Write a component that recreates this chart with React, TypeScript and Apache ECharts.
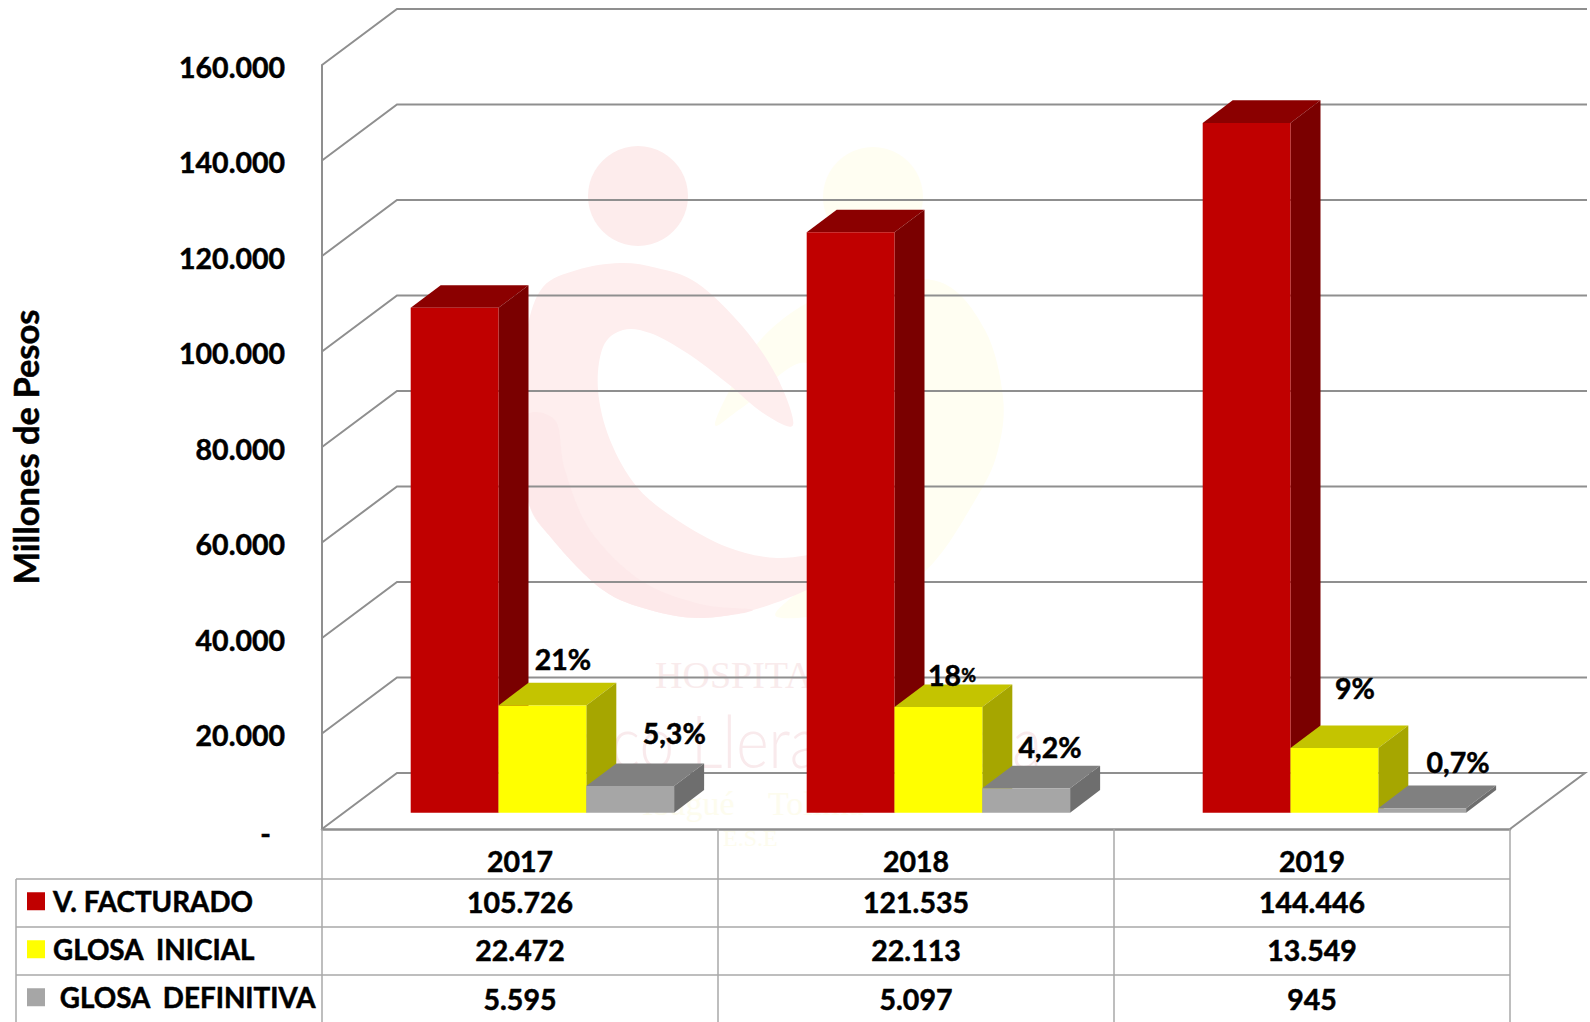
import React, { useEffect, useRef } from "react";
import * as echarts from "echarts";

const years = ["2017", "2018", "2019"];
const seriesNames = ["V. FACTURADO", "GLOSA  INICIAL", "GLOSA  DEFINITIVA"];
const facturado = [105726, 121535, 144446];
const glosaInicial = [22472, 22113, 13549];
const glosaDefinitiva = [5595, 5097, 945];
const pctInicial = ["21%", "{n|18}{s|%}", "9%"];
const pctDefinitiva = ["5,3%", "4,2%", "0,7%"];
const yTicks = [0, 20000, 40000, 60000, 80000, 100000, 120000, 140000, 160000];

const FONT = "Lato";
const GRID_LINE = "#8f8f8f";
const TABLE_LINE = "#a8a8a8";
const FS = 28.5;
const HEAVY = { textBorderColor: "#000", textBorderWidth: 0.5 };

const palettes = [
  { front: "#C00000", top: "#8B0000", side: "#7A0000" },
  { front: "#FFFF00", top: "#C4C400", side: "#A6A600" },
  { front: "#A6A6A6", top: "#808080", side: "#6E6E6E" },
];
const labelNudge: ([number, number][] | null)[] = [
  null,
  [[20.6, -46.4], [13.6, -32], [20.6, -60]],
  [[44, -53], [23.8, -41.4], [35.8, -46]],
];
const pctLabels = [null, pctInicial, pctDefinitiva];
const rowCenters = [902, 950, 999];

const BAR_W = 87.8;
const BAR_LEFT = -109.3;
const BAR_LIFT = 16.3;
const DEPTH_X = 30;
const DEPTH_Y = 22.6;
const WALL_X = 75;
const WALL_Y = 56;

const fmt = (v: number) => String(v).replace(/\B(?=(\d{3})+$)/g, ".");

function smooth(pts: number[][], close = true) {
  const n = pts.length;
  let d = `M${pts[0][0]} ${pts[0][1]}`;
  const at = (i: number) => pts[close ? (i + n) % n : Math.max(0, Math.min(n - 1, i))];
  const end = close ? n : n - 1;
  for (let i = 0; i < end; i++) {
    const p0 = at(i - 1), p1 = at(i), p2 = at(i + 1), p3 = at(i + 2);
    d += `C${p1[0] + (p2[0] - p0[0]) / 6} ${p1[1] + (p2[1] - p0[1]) / 6} ${p2[0] - (p3[0] - p1[0]) / 6} ${p2[1] - (p3[1] - p1[1]) / 6} ${p2[0]} ${p2[1]}`;
  }
  return d + "Z";
}

const swooshPts = [
  [793, 425], [777, 377], [743, 327], [697, 283], [657, 268], [620, 263], [577, 270], [543, 287], [527, 330],
  [522, 400], [527, 497], [553, 540], [603, 590], [650, 610], [700, 618], [753, 610], [807, 590], [835, 572],
  [835, 553], [777, 558], [727, 547], [677, 520], [637, 487], [610, 440], [598, 390], [603, 347],
  [623, 330], [650, 333], [687, 353], [727, 383], [763, 413],
];
const shadePts = [
  [522, 420], [527, 497], [553, 540], [603, 590], [650, 610], [700, 618], [753, 610],
  [700, 604], [640, 580], [590, 530], [565, 470], [555, 420],
];
const yellowPts = [
  [715, 425], [735, 380], [763, 337], [807, 303], [860, 285], [940, 282], [985, 330], [1003, 397], [998, 450],
  [977, 497], [923, 573], [843, 610], [777, 617], [800, 590], [860, 540], [840, 440], [807, 363], [743, 407],
];

let registered = false;
function registerWatermark() {
  if (registered) return;
  registered = true;
  echarts.graphic.registerShape("wmSwoosh", echarts.graphic.extendPath(smooth(swooshPts), {}));
  echarts.graphic.registerShape("wmShade", echarts.graphic.extendPath(smooth(shadePts), {}));
  echarts.graphic.registerShape("wmYellow", echarts.graphic.extendPath(smooth(yellowPts), {}));
}

const barSeries = (idx: number, values: number[]) => ({
  type: "custom",
  name: seriesNames[idx],
  z: 3,
  itemStyle: { color: palettes[idx].front },
  encode: { x: 0, y: 1 },
  data: values.map((v, i) => [i, v]),
  renderItem: (_p: any, api: any) => {
    const i = api.value(0);
    const v = api.value(1);
    const [cx, topY0] = api.coord([i, v]);
    const baseY0 = api.coord([i, 0])[1];
    const l = cx + BAR_LEFT + idx * BAR_W;
    const r = l + BAR_W;
    const t = topY0 - BAR_LIFT;
    const b = baseY0 - BAR_LIFT;
    const c = palettes[idx];
    const children: any[] = [
      { type: "polygon", shape: { points: [[l, t], [r, t], [r + DEPTH_X, t - DEPTH_Y], [l + DEPTH_X, t - DEPTH_Y]] }, style: { fill: c.top } },
      { type: "polygon", shape: { points: [[r, t], [r + DEPTH_X, t - DEPTH_Y], [r + DEPTH_X, b - DEPTH_Y], [r, b]] }, style: { fill: c.side } },
      { type: "rect", shape: { x: l, y: t, width: BAR_W, height: b - t }, style: { fill: c.front } },
      {
        type: "text", x: cx, y: rowCenters[idx],
        style: { text: fmt(v), fill: "#000", stroke: "#000", lineWidth: 0.5, font: `bold ${FS}px ${FONT}`, align: "center", verticalAlign: "middle" },
      },
    ];
    const labels = pctLabels[idx];
    const nudge = labelNudge[idx];
    if (labels && nudge) {
      children.push({
        type: "text", x: l + BAR_W / 2 + nudge[i][0], y: t + nudge[i][1], z2: 50,
        style: {
          text: labels[i], fill: "#000", stroke: "#000", lineWidth: 0.5, font: `bold ${FS}px ${FONT}`, align: "center", verticalAlign: "middle",
          rich: {
            n: { fontFamily: FONT, fontWeight: "bold", fontSize: FS, fill: "#000", stroke: "#000", lineWidth: 0.5 },
            s: { fontFamily: FONT, fontWeight: "bold", fontSize: 18, fill: "#000" },
          },
        },
      });
    }
    return { type: "group", children };
  },
});

export default function App() {
  const ref = useRef<HTMLDivElement>(null);
  useEffect(() => {
    document.body.style.margin = "0";
    registerWatermark();
    const chart = echarts.init(ref.current!, undefined, { renderer: "svg" });
    const wmPink = "#feeeee";
    const wmYellow = "#fffef2";
    const tableLine = (x1: number, y1: number, x2: number, y2: number) => ({
      type: "line", z: 1, shape: { x1, y1, x2, y2 }, style: { stroke: TABLE_LINE, lineWidth: 1.5 },
    });
    chart.setOption({
      animation: false,
      backgroundColor: "#ffffff",
      textStyle: { fontFamily: FONT },
      grid: { left: 322, right: 80, top: 65, bottom: 193, outerBoundsMode: "none" },
      legend: {
        orient: "vertical", left: 27, top: 887, padding: 0, itemWidth: 18, itemHeight: 18, itemGap: 19.5, icon: "rect",
        data: seriesNames, selectedMode: false,
        formatter: (n: string) => (n === seriesNames[2] ? " " + n : n),
        textStyle: { fontFamily: FONT, fontWeight: "bold", fontSize: 27.8, color: "#000", padding: [0, 0, 0, 3], ...HEAVY },
      },
      xAxis: {
        type: "category", data: years,
        axisLine: { show: true, lineStyle: { color: GRID_LINE, width: 2.5 } },
        axisTick: { show: true, alignWithLabel: false, length: 193, lineStyle: { color: TABLE_LINE, width: 1.5 } },
        axisLabel: { margin: 17, color: "#000", fontFamily: FONT, fontWeight: "bold", fontSize: FS, ...HEAVY },
      },
      yAxis: {
        type: "value", min: 0, max: 160000, interval: 20000,
        name: "Millones de Pesos", nameLocation: "middle", nameRotate: 90, nameGap: 279,
        nameTextStyle: { color: "#000", fontFamily: FONT, fontWeight: "bold", fontSize: 34.5, ...HEAVY },
        axisLine: { show: true, lineStyle: { color: GRID_LINE, width: 2 } },
        axisTick: { show: false },
        splitLine: { show: false },
        axisLabel: {
          margin: 37, color: "#000", fontFamily: FONT, fontWeight: "bold", fontSize: FS, padding: [3, 0, 0, 0], ...HEAVY,
          formatter: (v: number) => (v === 0 ? "{z|-}" : fmt(v)),
          rich: { z: { fontFamily: FONT, fontWeight: "bold", fontSize: FS, color: "#000", padding: [4, 14, 0, 0], ...HEAVY } },
        },
      },
      graphic: [
        { type: "circle", z: 0, shape: { cx: 873, cy: 197, r: 50 }, style: { fill: wmYellow } },
        { type: "wmYellow", z: 0, x: 0, y: 0, style: { fill: wmYellow } },
        { type: "circle", z: 0, shape: { cx: 638, cy: 196, r: 50 }, style: { fill: "#fdecec" } },
        { type: "wmSwoosh", z: 0, x: 0, y: 0, style: { fill: wmPink } },
        { type: "wmShade", z: 0, x: 0, y: 0, style: { fill: "#fde9ea" } },
        { type: "text", z: 0, x: 655, y: 675, style: { text: "HOSPITAL", fill: "#f9ebec", font: "38px 'Liberation Serif'", align: "left", verticalAlign: "middle" } },
        { type: "text", z: 0, x: 1042, y: 740, scaleX: 1.35, scaleY: 1.6, style: { text: "Federico Lleras Acosta", fill: "#f9eaec", font: "300 46px Lato", align: "right", verticalAlign: "middle" } },
        { type: "text", z: 0, x: 642, y: 803, style: { text: "Ibagué    Tolima", fill: "#fdfcee", font: "34px 'Liberation Serif'", align: "left", verticalAlign: "middle" } },
        { type: "text", z: 0, x: 723, y: 838, style: { text: "E.S.E", fill: "#fdfcee", font: "24px 'Liberation Serif'", align: "left", verticalAlign: "middle" } },
        tableLine(16, 879, 1510, 879),
        tableLine(16, 927, 1510, 927),
        tableLine(16, 975, 1510, 975),
        tableLine(16, 879, 16, 1022),
      ],
      series: [
        {
          type: "custom",
          name: "grid",
          z: 2,
          silent: true,
          encode: { x: 0, y: 1 },
          data: yTicks.map((t) => [0, t]),
          renderItem: (p: any, api: any) => {
            const y = api.coord([0, api.value(1)])[1];
            const x0 = p.coordSys.x;
            const x1 = x0 + p.coordSys.width;
            const pts = [[x0, y], [x0 + WALL_X, y - WALL_Y], [x1 + (api.value(1) === 0 ? WALL_X : WALL_X + 2), y - WALL_Y]];
            if (api.value(1) === 0) pts.push([x1, y]);
            return { type: "polyline", shape: { points: pts }, style: { stroke: GRID_LINE, lineWidth: 2, fill: "none" } };
          },
        },
        barSeries(0, facturado),
        barSeries(1, glosaInicial),
        barSeries(2, glosaDefinitiva),
      ],
    });
    return () => chart.dispose();
  }, []);
  return <div ref={ref} style={{ position: "fixed", left: 0, top: 0, width: 1590, height: 1022 }} />;
}
